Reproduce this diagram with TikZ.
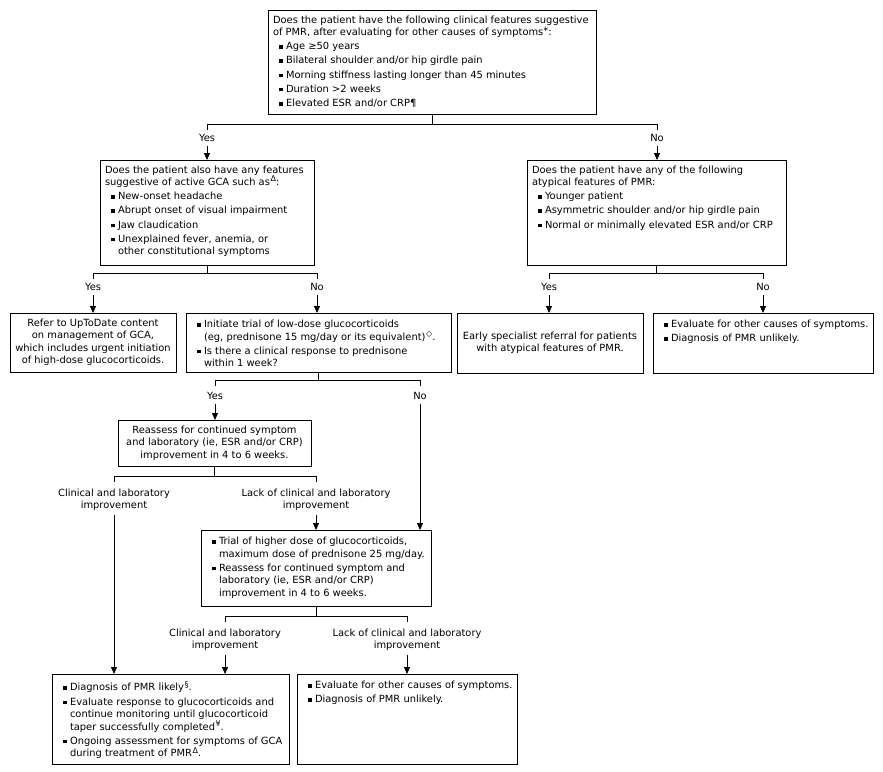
\documentclass[tikz,border=0pt]{standalone}
\usepackage{fontspec}
\setmainfont{DejaVu Sans}
\usetikzlibrary{arrows.meta}
\newcommand\bulsq{\raisebox{1pt}{\rule{3.6pt}{3.6pt}}}
\newcommand\sups[1]{\hspace{0.6pt}\raisebox{3.8pt}{\fontsize{8}{8}\selectfont #1}}
\newcommand\plainln[1]{\par\noindent\makebox[0pt][l]{#1}}
\newcommand\bulln[1]{\par\vspace{1.7pt}\noindent\hspace*{6pt}\makebox[7pt][l]{\bulsq}\makebox[0pt][l]{#1}}
\newcommand\contln[1]{\par\noindent\hspace*{13pt}\makebox[0pt][l]{#1}}
\newcommand\cln[1]{\par\noindent\makebox[\linewidth][c]{#1}}
\newcommand\tbox[3]{\parbox[c][#2][t]{#1}{\vspace*{5.5pt}#3}}
\newcommand\cbox[3]{\parbox[c][#2][c]{#1}{#3}}
\begin{document}
\begin{tikzpicture}[x=1pt,y=-1pt,
  every node/.style={font=\fontsize{9.9}{12.5}\selectfont},
  box/.style={draw, line width=1pt, inner xsep=5pt, inner ysep=0pt, anchor=north west, outer sep=0pt},
  lbl/.style={align=center, inner sep=1pt},
  ln/.style={line width=1pt},
  arr/.style={line width=1pt, -{Triangle[length=7pt,width=6pt]}}]
\useasboundingbox (0,0) rectangle (883,771);
\fill[white] (0,0) rectangle (883,771);

% boxes
\node[box] (top) at (268,10) {\tbox{318pt}{104pt}{%
 \plainln{Does the patient have the following clinical features suggestive}
 \plainln{of PMR, after evaluating for other causes of symptoms\raisebox{1pt}{*}:}
 \bulln{Age ≥50 years}
 \bulln{Bilateral shoulder and/or hip girdle pain}
 \bulln{Morning stiffness lasting longer than 45 minutes}
 \bulln{Duration >2 weeks}
 \bulln{Elevated ESR and/or CRP¶}}};

\node[box] (gca) at (100,160) {\tbox{204pt}{105pt}{%
 \plainln{Does the patient also have any features}
 \plainln{suggestive of active GCA such as\sups{Δ}:}
 \bulln{New-onset headache}
 \bulln{Abrupt onset of visual impairment}
 \bulln{Jaw claudication}
 \bulln{Unexplained fever, anemia, or}
 \contln{other constitutional symptoms}}};

\node[box] (aty) at (527,160) {\tbox{249pt}{105pt}{%
 \plainln{Does the patient have any of the following}
 \plainln{atypical features of PMR:}
 \bulln{Younger patient}
 \bulln{Asymmetric shoulder and/or hip girdle pain}
 \bulln{Normal or minimally elevated ESR and/or CRP}}};

\node[box] (refer) at (10,313) {\cbox{156pt}{59pt}{%
 \cln{Refer to UpToDate content}
 \cln{on management of GCA,}
 \cln{which includes urgent initiation}
 \cln{of high-dose glucocorticoids.}}};

\node[box] (init) at (186,313) {\tbox{255pt}{59pt}{%
 \bulln{Initiate trial of low-dose glucocorticoids}
 \contln{(eg, prednisone 15 mg/day or its equivalent)\sups{◇}.}
 \bulln{Is there a clinical response to prednisone}
 \contln{within 1 week?}}};

\node[box] (early) at (457,313) {\cbox{176pt}{60pt}{%
 \cln{Early specialist referral for patients}
 \cln{with atypical features of PMR.}}};

\node[box] (eval) at (653,313) {\tbox{210pt}{60pt}{%
 \bulln{Evaluate for other causes of symptoms.}
 \bulln{Diagnosis of PMR unlikely.}}};

\node[box] (reas) at (118,420) {\cbox{183pt}{46pt}{%
 \cln{Reassess for continued symptom}
 \cln{and laboratory (ie, ESR and/or CRP)}
 \cln{improvement in 4 to 6 weeks.}}};

\node[box] (hi) at (201,530) {\tbox{220pt}{76pt}{%
 \bulln{Trial of higher dose of glucocorticoids,}
 \contln{maximum dose of prednisone 25 mg/day.}
 \bulln{Reassess for continued symptom and}
 \contln{laboratory (ie, ESR and/or CRP)}
 \contln{improvement in 4 to 6 weeks.}}};

\node[box] (bl) at (52,674) {\tbox{227pt}{90pt}{%
 \bulln{Diagnosis of PMR likely\sups{§}.}
 \bulln{Evaluate response to glucocorticoids and}
 \contln{continue monitoring until glucocorticoid}
 \contln{taper successfully completed\sups{¥}.}
 \bulln{Ongoing assessment for symptoms of GCA}
 \contln{during treatment of PMR\sups{Δ}.}}};

\node[box] (br) at (297,674) {\tbox{210pt}{90pt}{%
 \bulln{Evaluate for other causes of symptoms.}
 \bulln{Diagnosis of PMR unlikely.}}};

% labels
\node[lbl] (y1) at (207,138) {Yes};
\node[lbl] (n1) at (657,138) {No};
\node[lbl] (y2) at (93,287) {Yes};
\node[lbl] (n2) at (317,287) {No};
\node[lbl] (y3) at (549,287) {Yes};
\node[lbl] (n3) at (763,287) {No};
\node[lbl] (y4) at (215,396) {Yes};
\node[lbl] (n4) at (420,396) {No};
\node[lbl] (c1) at (114,500) {Clinical and laboratory\\improvement};
\node[lbl] (l1) at (316,500) {Lack of clinical and laboratory\\improvement};
\node[lbl] (c2) at (225,640) {Clinical and laboratory\\improvement};
\node[lbl] (l2) at (407,640) {Lack of clinical and laboratory\\improvement};

% junction coordinates
\coordinate (j1l) at (207,124); \coordinate (j1r) at (657,124);
\coordinate (j2l) at (93,273);  \coordinate (j2r) at (317,273);
\coordinate (j3l) at (549,273); \coordinate (j3r) at (763,273);
\coordinate (j4l) at (215,380); \coordinate (j4r) at (420,380);
\coordinate (j5l) at (114,476); \coordinate (j5r) at (316,476);
\coordinate (j6l) at (225,616); \coordinate (j6r) at (407,616);

% splits
\draw[ln] (top.south) -- (top.south |- j1l);
\draw[ln] ([yshift=-6pt]j1l) -- (j1l) -- (j1r) -- ([yshift=-6pt]j1r);
\draw[ln] (gca.south) -- (gca.south |- j2l);
\draw[ln] ([yshift=-6pt]j2l) -- (j2l) -- (j2r) -- ([yshift=-6pt]j2r);
\draw[ln] (aty.south) -- (aty.south |- j3l);
\draw[ln] ([yshift=-6pt]j3l) -- (j3l) -- (j3r) -- ([yshift=-6pt]j3r);
\draw[ln] (init.south) -- (init.south |- j4l);
\draw[ln] ([yshift=-6pt]j4l) -- (j4l) -- (j4r) -- ([yshift=-6pt]j4r);
\draw[ln] (reas.south) -- (reas.south |- j5l);
\draw[ln] ([yshift=-6pt]j5l) -- (j5l) -- (j5r) -- ([yshift=-6pt]j5r);
\draw[ln] (hi.south) -- (hi.south |- j6l);
\draw[ln] ([yshift=-6pt]j6l) -- (j6l) -- (j6r) -- ([yshift=-6pt]j6r);

% arrows
\draw[arr] ([yshift=-3pt]y1.south) -- (y1.south |- gca.north);
\draw[arr] ([yshift=-3pt]n1.south) -- (n1.south |- aty.north);
\draw[arr] ([yshift=-3pt]y2.south) -- (y2.south |- refer.north);
\draw[arr] ([yshift=-3pt]n2.south) -- (n2.south |- init.north);
\draw[arr] ([yshift=-3pt]y3.south) -- (y3.south |- early.north);
\draw[arr] ([yshift=-3pt]n3.south) -- (n3.south |- eval.north);
\draw[arr] ([yshift=-3pt]y4.south) -- (y4.south |- reas.north);
\draw[arr] ([yshift=-3pt]n4.south) -- (n4.south |- hi.north);
\draw[arr] ([yshift=-3pt]c1.south) -- (c1.south |- bl.north);
\draw[arr] ([yshift=-3pt]l1.south) -- (l1.south |- hi.north);
\draw[arr] ([yshift=-3pt]c2.south) -- (c2.south |- bl.north);
\draw[arr] ([yshift=-3pt]l2.south) -- (l2.south |- br.north);
\end{tikzpicture}
\end{document}
